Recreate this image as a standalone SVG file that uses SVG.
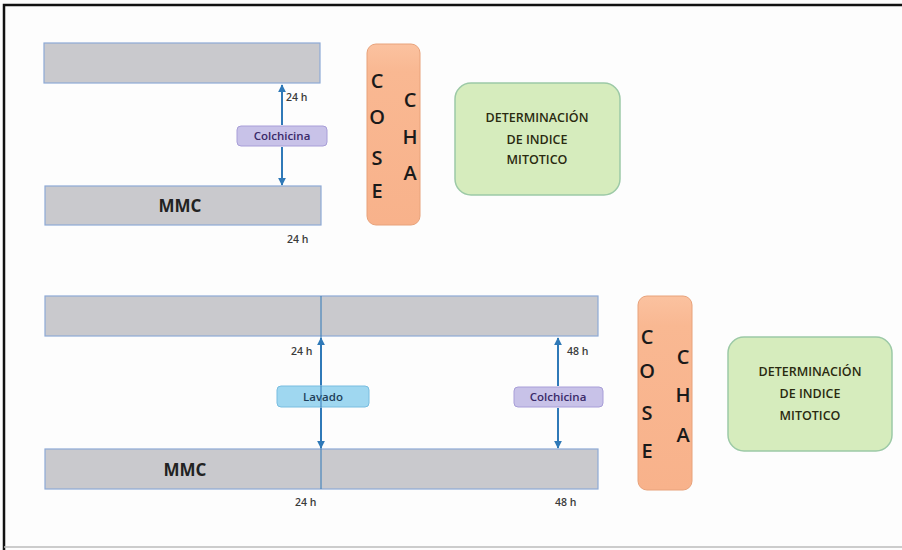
<svg xmlns="http://www.w3.org/2000/svg" width="902" height="550" viewBox="0 0 902 550">
  <defs>
    <marker id="ah" viewBox="0 0 10 10" refX="9" refY="5" markerWidth="4" markerHeight="4" orient="auto-start-reverse">
      <path d="M0,0 L10,5 L0,10 z" fill="#2f79b8"/>
    </marker>
    <linearGradient id="orange" x1="0" y1="0" x2="0" y2="1">
      <stop offset="0" stop-color="#fbc2a0"/>
      <stop offset="0.15" stop-color="#f9b892"/>
      <stop offset="1" stop-color="#f8b28b"/>
    </linearGradient>
  </defs>
  <style>
    text { font-family: "Open Sans", "DejaVu Sans", sans-serif; fill: #222; }
    .bar { fill: #c9c9cd; stroke: #8eaad6; stroke-width: 1.2; }
    .mmc { font-size: 17px; font-weight: bold; text-anchor: middle; }
    .time { font-size: 10.5px; font-weight: 600; fill: #3a3a3a; }
    .conn { stroke: #2f79b8; stroke-width: 2; fill: none; }
    .thin { stroke: #2f79b8; stroke-width: 1; fill: none; }
    .colch { fill: #c8c2e8; stroke: #a89ed8; stroke-width: 1; }
    .lav { fill: #9fd7f0; stroke: #78bde0; stroke-width: 1; }
    .lbl { font-size: 11.5px; font-weight: 600; text-anchor: middle; }
    .cose { fill: url(#orange); stroke: #e8a27a; stroke-width: 1; }
    .letter { font-size: 20px; font-weight: 600; text-anchor: middle; fill: #1a1a1a; }
    .green { fill: #d6ecbd; stroke: #9cc9a6; stroke-width: 1.5; }
    .det { font-size: 12.5px; font-weight: 600; text-anchor: middle; fill: #2a2a10; }
  </style>

  <rect x="0" y="0" width="902" height="550" fill="#fdfdfd"/>
  <!-- frame -->
  <path d="M4,550 L4,5 L902,5" fill="none" stroke="#111" stroke-width="2.5"/>
  <path d="M4,547 L902,547" fill="none" stroke="#bbb" stroke-width="1.5"/>

  <!-- upper experiment -->
  <g id="top-bar-1">
    <rect class="bar" x="44" y="43" width="276" height="40"/>
  </g>
  <g id="mmc-bar-1">
    <rect class="bar" x="45" y="186" width="276" height="39"/>
    <text class="mmc" x="180" y="212">MMC</text>
    <text class="time" x="287" y="243">24 h</text>
  </g>
  <g id="colchicina-1">
    <rect class="colch" x="237" y="126" width="90" height="20" rx="4"/>
    <text class="lbl" x="282" y="140" style="fill:#3a2a6a">Colchicina</text>
  </g>
  <g id="cosecha-1">
    <rect class="cose" x="367" y="44" width="53" height="181" rx="9"/>
    <text class="letter" x="377" y="88">C</text>
    <text class="letter" x="377" y="124">O</text>
    <text class="letter" x="377" y="165">S</text>
    <text class="letter" x="377" y="198">E</text>
    <text class="letter" x="410" y="107">C</text>
    <text class="letter" x="410" y="144">H</text>
    <text class="letter" x="410" y="180">A</text>
  </g>
  <g id="indice-1">
    <rect class="green" x="455" y="83" width="165" height="112" rx="16"/>
    <text class="det" x="537" y="122">DETERMINACIÓN</text>
    <text class="det" x="537" y="144">DE INDICE</text>
    <text class="det" x="537" y="164">MITOTICO</text>
  </g>

  <!-- lower experiment -->
  <g id="top-bar-2">
    <rect class="bar" x="45" y="296" width="553" height="40"/>
  </g>
  <g id="mmc-bar-2">
    <rect class="bar" x="45" y="449" width="553" height="40"/>
    <text class="mmc" x="185" y="476">MMC</text>
    <text class="time" x="295" y="506">24 h</text>
    <text class="time" x="555" y="506">48 h</text>
  </g>
  <g id="lavado">
    <rect class="lav" x="277" y="386" width="92" height="21" rx="4"/>
    <text class="lbl" x="323" y="401" style="fill:#1e3f5a">Lavado</text>
  </g>
  <g id="colchicina-2">
    <rect class="colch" x="514" y="387" width="89" height="20" rx="4"/>
    <text class="lbl" x="558" y="401" style="fill:#3a2a6a">Colchicina</text>
  </g>
  <g id="cosecha-2">
    <rect class="cose" x="638" y="296" width="54" height="194" rx="9"/>
    <text class="letter" x="647" y="344">C</text>
    <text class="letter" x="647" y="378">O</text>
    <text class="letter" x="647" y="420">S</text>
    <text class="letter" x="647" y="458">E</text>
    <text class="letter" x="683" y="364">C</text>
    <text class="letter" x="683" y="402">H</text>
    <text class="letter" x="683" y="442">A</text>
  </g>
  <g id="indice-2">
    <rect class="green" x="728" y="337" width="164" height="114" rx="16"/>
    <text class="det" x="810" y="376">DETERMINACIÓN</text>
    <text class="det" x="810" y="398">DE INDICE</text>
    <text class="det" x="810" y="420">MITOTICO</text>
  </g>

  <!-- connectors -->
  <g id="connectors">
    <line class="conn" x1="282" y1="125" x2="282" y2="85" marker-end="url(#ah)"/>
    <line class="conn" x1="282" y1="147" x2="282" y2="185" marker-end="url(#ah)"/>
    <line class="thin" x1="321" y1="296" x2="321" y2="489"/>
    <line class="conn" x1="321" y1="385" x2="321" y2="338" marker-end="url(#ah)"/>
    <line class="conn" x1="321" y1="408" x2="321" y2="448" marker-end="url(#ah)"/>
    <line class="conn" x1="558" y1="386" x2="558" y2="338" marker-end="url(#ah)"/>
    <line class="conn" x1="558" y1="408" x2="558" y2="448" marker-end="url(#ah)"/>
    <text class="time" x="286" y="101">24 h</text>
    <text class="time" x="291" y="355">24 h</text>
    <text class="time" x="567" y="355">48 h</text>
  </g>
</svg>
